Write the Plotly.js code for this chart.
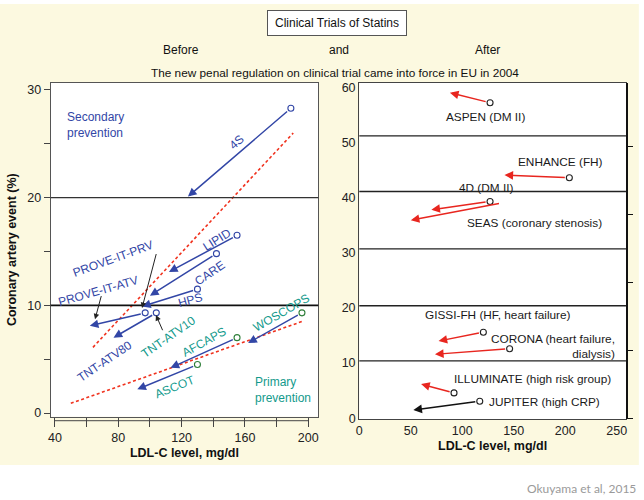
<!DOCTYPE html>
<html>
<head>
<meta charset="utf-8">
<script src="https://cdn.plot.ly/plotly-3.0.1.min.js"></script>
<style>html,body{margin:0;padding:0;background:#fff;}#chart{width:644px;height:500px;}</style>
</head>
<body>
<div id="chart"></div>
<script>
// ---------- Left panel: before 2004 ----------
const leftTrials      = ['4S','LIPID','CARE','HPS','PROVE-IT','TNT','WOSCOPS','AFCAPS','ASCOT'];
const leftGroup       = ['sec','sec','sec','sec','sec','sec','pri','pri','pri'];
const leftStartLDL    = [189, 155, 142, 130, 97, 104, 196, 155, 130];
const leftStartEvent  = [28.3, 16.5, 14.8, 11.5, 9.3, 9.3, 9.3, 7.0, 4.5];
const leftEndLDL      = [124, 112, 100, 95, 62, 77, 162, 113, 92];
const leftEndEvent    = [20.1, 13.1, 10.9, 9.9, 8.1, 7.0, 6.5, 4.2, 2.2];
const secTrendLDL     = [64, 190.5];
const secTrendEvent   = [6.1, 26.0];
const priTrendLDL     = [50, 196];
const priTrendEvent   = [0.9, 8.5];
const leftRefLines    = [20, 10];
const leftXTicks      = [40, 60, 80, 100, 120, 140, 160, 180, 200];
const leftXTickText   = ['40', '', '80', '', '120', '', '160', '', '200'];
const leftYTicks      = [0, 5, 10, 15, 20, 25, 30];
const leftYTickText   = ['0', '', '10', '', '20', '', '30'];
// pointer labels (label tail -> pointed value)
const pointerNames    = ['PROVE-IT-PRV', 'PROVE-IT-ATV', 'TNT-ATV10'];
const pointerFromLDL  = [104.2, 69.5, 108.4];
const pointerFromEvt  = [14.9, 11.0, 7.55];
const pointerToLDL    = [95, 65.3, 103.8];
const pointerToEvt    = [9.75, 8.7, 9.1];

// ---------- Right panel: after 2004 ----------
const rightTrials     = ['ASPEN','ENHANCE','4D','SEAS','GISSI-HF','CORONA','ILLUMINATE','JUPITER'];
const rightStartLDL   = [127, 204, 127, 140, 120.5, 146, 92, 117];
const rightStartEvent = [57.2, 43.6, 39.3, 39.1, 15.6, 12.6, 4.6, 3.1];
const rightEndLDL     = [88, 141, 70, 50, 77, 73.5, 60, 52.5];
const rightEndEvent   = [59.0, 44.1, 37.8, 35.9, 14.0, 11.6, 6.2, 1.5];
const rightHasCircle  = [true, true, true, false, true, true, true, true];
const rightBands      = [10.4, 20.4, 30.7, 41.1, 51.2];
const rightXTicks     = [0, 50, 100, 150, 200, 250];
const rightYTicks     = [0, 10, 20, 30, 40, 50, 60];
const rightSideTicks  = [0, 12.3, 24.6, 36.9, 49.2];

const FONT = 'Liberation Sans, Arial, Helvetica, sans-serif';
const BLUE = '#3246a6', TEAL = '#139a8c', GREEN = '#2f7f3a', RED = '#e8261f';

const traces = [];
traces.push({x: secTrendLDL, y: secTrendEvent, mode: 'lines', xaxis: 'x', yaxis: 'y',
  line: {color: '#f0321e', width: 1.6, dash: '3px,2.5px'}, hoverinfo: 'skip'});
traces.push({x: priTrendLDL, y: priTrendEvent, mode: 'lines', xaxis: 'x', yaxis: 'y',
  line: {color: '#f0321e', width: 1.6, dash: '3px,2.5px'}, hoverinfo: 'skip'});
traces.push({x: leftStartLDL, y: leftStartEvent, mode: 'markers', xaxis: 'x', yaxis: 'y',
  marker: {symbol: 'circle-open', size: 6, line: {width: 1.1},
    color: leftGroup.map(g => g === 'sec' ? BLUE : GREEN)}, text: leftTrials, hoverinfo: 'text'});
const rcx = [], rcy = [];
rightStartLDL.forEach((v, i) => { if (rightHasCircle[i]) { rcx.push(v); rcy.push(rightStartEvent[i]); } });
traces.push({x: rcx, y: rcy, mode: 'markers', xaxis: 'x2', yaxis: 'y2',
  marker: {symbol: 'circle-open', size: 6, color: '#222', line: {width: 1.1}}, hoverinfo: 'skip'});
traces.push({x: [0], y: [0], mode: 'markers', xaxis: 'x2', yaxis: 'y3', marker: {opacity: 0}, hoverinfo: 'skip'});

const ann = [];
function arrow(xr, yr, x, y, ax, ay, color, w) {
  ann.push({xref: xr, yref: yr, axref: xr, ayref: yr, x: x, y: y, ax: ax, ay: ay, text: '',
    showarrow: true, arrowhead: 2, arrowsize: 1.15, arrowwidth: w, arrowcolor: color,
    standoff: 0, startstandoff: 3});
}
leftTrials.forEach((t, i) => arrow('x', 'y', leftEndLDL[i], leftEndEvent[i], leftStartLDL[i], leftStartEvent[i], BLUE, 1.5));
pointerNames.forEach((t, i) => {
  ann.push({xref: 'x', yref: 'y', axref: 'x', ayref: 'y', x: pointerToLDL[i], y: pointerToEvt[i],
    ax: pointerFromLDL[i], ay: pointerFromEvt[i], text: '', showarrow: true, arrowhead: 2,
    arrowsize: 1.1, arrowwidth: 1, arrowcolor: '#222', standoff: 0, startstandoff: 0});
});
rightTrials.forEach((t, i) => arrow('x2', 'y2', rightEndLDL[i], rightEndEvent[i], rightStartLDL[i], rightStartEvent[i],
  t === 'JUPITER' ? '#111' : RED, 1.5));

function lab(xr, yr, x, y, text, color, angle, size, extra) {
  ann.push(Object.assign({xref: xr, yref: yr, x: x, y: y, text: text, showarrow: false,
    xanchor: 'center', yanchor: 'middle',
    textangle: angle || 0, font: {family: FONT, size: size, color: color}}, extra || {}));
}
const LS = 12, RS = 11.8;
lab('x', 'y', 46.3, 26.74, 'Secondary<br>prevention', BLUE, 0, LS, {xanchor: 'left', align: 'left'});
lab('x', 'y', 165.1, 2.14, 'Primary<br>prevention', TEAL, 0, LS, {xanchor: 'left', align: 'left'});
lab('x', 'y', 154.8, 25.2, '4S', BLUE, -41, LS);
lab('x', 'y', 142.1, 16.06, 'LIPID', BLUE, -32, LS);
lab('x', 'y', 137.9, 13.03, 'CARE', BLUE, -34, LS);
lab('x', 'y', 125.7, 10.49, 'HPS', BLUE, -15, LS);
lab('x', 'y', 76.4, 14.27, 'PROVE-IT-PRV', BLUE, -20, LS);
lab('x', 'y', 67.4, 11.33, 'PROVE-IT-ATV', BLUE, -16, LS);
lab('x', 'y', 71.6, 4.86, 'TNT-ATV80', BLUE, -34, LS);
lab('x', 'y', 111.6, 7.08, 'TNT-ATV10', TEAL, -35, LS);
lab('x', 'y', 134.1, 6.62, 'AFCAPS', TEAL, -29, LS);
lab('x', 'y', 182.8, 9.31, 'WOSCOPS', TEAL, -30, LS);
lab('x', 'y', 115.8, 2.39, 'ASCOT', TEAL, -22, LS);
const BLK = '#1a1a1a';
lab('x2', 'y2', 122.8, 54.56, 'ASPEN (DM II)', BLK, 0, RS);
lab('x2', 'y2', 195.6, 46.51, 'ENHANCE (FH)', BLK, 0, RS);
lab('x2', 'y2', 122.8, 41.69, '4D (DM II)', BLK, 0, RS);
lab('x2', 'y2', 170, 35.45, 'SEAS (coronary stenosis)', BLK, 0, RS);
lab('x2', 'y2', 135, 18.72, 'GISSI-FH (HF, heart failure)', BLK, 0, RS);
lab('x2', 'y2', 250, 12.98, 'CORONA (heart failure,<br>dialysis)', BLK, 0, RS, {xanchor: 'right', align: 'right'});
lab('x2', 'y2', 168.4, 7.07, 'ILLUMINATE (high risk group)', BLK, 0, RS);
lab('x2', 'y2', 123.7, 2.9, 'JUPITER (high CRP)', BLK, 0, RS, {xanchor: 'left'});

// header
const HF = {family: FONT, size: 12, color: '#111'};
function head(x, y, text, extra) {
  ann.push(Object.assign({xref: 'paper', yref: 'paper', x: x, y: y, xanchor: 'center', yanchor: 'middle',
    text: text, showarrow: false, font: HF}, extra || {}));
}
head(0.524, 0.955, 'Clinical Trials of Statins', {bgcolor: '#fff', bordercolor: '#555', borderwidth: 1, borderpad: 5, width: 128});
head(0.281, 0.899, 'Before');
head(0.527, 0.899, 'and');
head(0.757, 0.899, 'After');
head(0.52, 0.855, 'The new penal regulation on clinical trial came into force in EU in 2004', {font: {family: FONT, size: 11.8, color: '#111'}});
ann.push({xref: 'paper', yref: 'paper', x: 0.991, y: 0.024, xanchor: 'right', yanchor: 'middle', text: 'Okuyama et al, 2015',
  showarrow: false, font: {family: 'Lato, Open Sans, sans-serif', size: 12, color: '#9a9a9a'}});

const shapes = [];
shapes.push({type: 'rect', xref: 'paper', yref: 'paper', x0: 0, x1: 1, y0: 0, y1: 0.07, fillcolor: '#fff', line: {width: 0}, layer: 'below'});
shapes.push({type: 'rect', xref: 'paper', yref: 'paper', x0: 0, x1: 1, y0: 0.992, y1: 1, fillcolor: '#fff', line: {width: 0}, layer: 'below'});
shapes.push({type: 'rect', xref: 'paper', yref: 'paper', x0: 0.992, x1: 1, y0: 0, y1: 1, fillcolor: '#fff', line: {width: 0}, layer: 'below'});
leftRefLines.forEach((v, i) => shapes.push({type: 'line', xref: 'x domain', yref: 'y', x0: 0, x1: 1, y0: v, y1: v,
  line: {color: i === 0 ? '#333' : '#111', width: i === 0 ? 1.3 : 1.8}}));
shapes.push({type: 'line', xref: 'x', yref: 'y domain', x0: leftXTicks[0], x1: leftXTicks[leftXTicks.length - 1],
  y0: -0.012, y1: -0.012, line: {color: '#444', width: 1}});
rightBands.forEach(v => shapes.push({type: 'line', xref: 'x2 domain', yref: 'y2', x0: 0, x1: 1, y0: v, y1: v,
  line: {color: '#222', width: 1.4}}));

const tickFont = {family: FONT, size: 12.5, color: '#222'};
const titleFont = {family: FONT, size: 12.5, color: '#111'};
const layout = {
  width: 644, height: 500, margin: {l: 0, r: 0, t: 0, b: 0},
  paper_bgcolor: '#fcf9e0', plot_bgcolor: '#ffffff', showlegend: false,
  font: {family: FONT},
  xaxis: {domain: [0.0787, 0.4942], range: [37.3, 206.3], tickmode: 'array', tickvals: leftXTicks, ticktext: leftXTickText,
    ticks: 'outside', ticklen: 9, tickcolor: '#444', showline: true, mirror: true, linecolor: '#555', linewidth: 1,
    showgrid: false, zeroline: false, tickfont: tickFont,
    title: {text: '<b>LDL-C level, mg/dl</b>', font: titleFont, standoff: 4}},
  yaxis: {domain: [0.1666, 0.8346], range: [-0.34, 30.67], tickmode: 'array', tickvals: leftYTicks, ticktext: leftYTickText,
    ticks: 'outside', ticklen: 6, tickcolor: '#444', showline: true, mirror: true, linecolor: '#555', linewidth: 1,
    showgrid: false, zeroline: false, tickfont: tickFont,
    title: {text: '<b>Coronary artery event (%)</b>', font: titleFont, standoff: 7}},
  xaxis2: {domain: [0.5579, 0.972], range: [0, 259], anchor: 'y2', tickmode: 'array', tickvals: rightXTicks,
    ticks: '', showline: true, mirror: true, linecolor: '#444', linewidth: 1.2, showgrid: false, zeroline: false,
    tickfont: tickFont,
    title: {text: '<b>LDL-C level, mg/dl</b>', font: titleFont, standoff: 4}},
  yaxis2: {domain: [0.162, 0.8346], range: [-0.13, 60.83], anchor: 'x2', tickmode: 'array', tickvals: rightYTicks,
    ticks: '', showline: true, mirror: true, linecolor: '#444', linewidth: 1.2, showgrid: false, zeroline: false,
    tickfont: tickFont},
  yaxis3: {overlaying: 'y2', side: 'right', anchor: 'x2', range: [-0.13, 60.83], tickmode: 'array', tickvals: rightSideTicks,
    showticklabels: false, ticks: 'outside', ticklen: 5, tickcolor: '#111', tickwidth: 1.2, showline: true,
    linecolor: '#111', linewidth: 2, showgrid: false, zeroline: false},
  annotations: ann, shapes: shapes
};
Plotly.newPlot('chart', traces, layout, {staticPlot: true, displayModeBar: false});
</script>
</body>
</html>
